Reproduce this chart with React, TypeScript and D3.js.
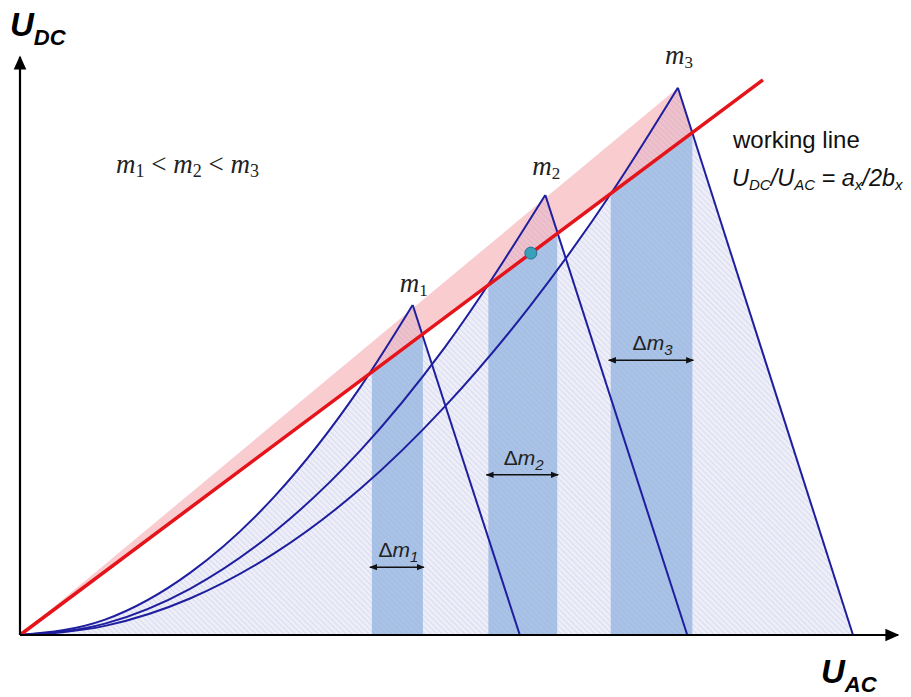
import React from "react";
import * as d3 from "d3";

const W = 911;
const H = 697;

// Modulation index labels and the triangle corners of each operating area (U_AC, U_DC units)
const modIndex = ["1", "2", "3"];
const peakUac = [46.2, 61.8, 77.4];
const peakUdc = [57.9, 77.2, 96.0];
const footUac = [58.8, 78.5, 98.0];

// Rising (convex) boundary of each area, from the origin up to its peak
const riseM1: [number, number][] = [[0, 0], [10, 2.7], [20, 10.9], [30, 24.4], [40, 43.4], [46.2, 57.9]];
const riseM2: [number, number][] = [[0, 0], [10, 2.0], [20, 8.1], [30, 18.2], [40, 32.3], [50, 50.5], [61.8, 77.2]];
const riseM3: [number, number][] = [[0, 0], [10, 1.6], [20, 6.4], [30, 14.4], [40, 25.6], [50, 40.1], [60, 57.7], [70, 78.5], [77.4, 96.0]];
const rises = [riseM1, riseM2, riseM3];

// Working line end point and operating point on it
const workingEnd: [number, number] = [87.4, 97.4];
const operatingPoint: [number, number] = [60.1, 67.0];

// Δm strips: where each area crosses the working line
const bandLeft = [41.4, 55.1, 69.5];
const bandRight = [47.4, 63.2, 79.1];
const arrowUdc = [11.9, 28.1, 48.2];

// gap between each peak and its label baseline (px)
const labelGap = [13, 20, 24];

export default function App() {
  const x = d3.scaleLinear().domain([0, 100]).range([20, 870]);
  const y = d3.scaleLinear().domain([0, 100]).range([635, 65]);
  const slope = workingEnd[1] / workingEnd[0];

  const line = d3.line<[number, number]>().x(d => x(d[0])).y(d => y(d[1]));
  const smooth = d3.line<[number, number]>().x(d => x(d[0])).y(d => y(d[1])).curve(d3.curveMonotoneX);

  const areaPath = (i: number) => {
    const rise = smooth(rises[i]) as string;
    return `${rise}L${x(footUac[i])},${y(0)}Z`;
  };

  // Pink band: between the line through the peaks and the working line
  const p3: [number, number] = [peakUac[2], peakUdc[2]];
  const edgeSlope = -peakUdc[2] / (footUac[2] - peakUac[2]);
  const crossX = (peakUdc[2] - edgeSlope * peakUac[2]) / (slope - edgeSlope);
  const pinkPts: [number, number][] = [[0, 0], p3, [crossX, slope * crossX]];

  const blue = "#1e1e9e";
  const serif = "'Liberation Serif', 'DejaVu Serif', serif";

  return (
    <svg width={W} height={H} style={{ position: "absolute", left: 0, top: 0, background: "#fff" }}
      fontFamily="'Liberation Sans', Arial, sans-serif">
      <defs>
        <pattern id="hatch" patternUnits="userSpaceOnUse" width={4} height={4} patternTransform="rotate(-45)">
          <rect width={4} height={4} fill="#edeef8" />
          <line x1={0} y1={0} x2={0} y2={4} stroke="#cfd3ec" strokeWidth={1.3} />
        </pattern>
        <marker id="ah" viewBox="0 0 10 10" refX={9} refY={5} markerWidth={8} markerHeight={8} orient="auto-start-reverse" markerUnits="userSpaceOnUse">
          <path d="M0,1 L10,5 L0,9 Z" fill="#111" />
        </marker>
        <marker id="axh" viewBox="0 0 10 10" refX={9} refY={5} markerWidth={16} markerHeight={14} orient="auto" markerUnits="userSpaceOnUse">
          <path d="M0,0.5 L10,5 L0,9.5 Z" fill="#000" />
        </marker>
      </defs>

      {/* hatched operating areas */}
      {modIndex.map((_, i) => (
        <path key={"a" + i} d={areaPath(i)} fill="url(#hatch)" />
      ))}

      {/* Δm strips */}
      {modIndex.map((_, i) => {
        const pts: [number, number][] = [
          [bandLeft[i], 0], [bandLeft[i], slope * bandLeft[i]],
          [bandRight[i], slope * bandRight[i]], [bandRight[i], 0],
        ];
        return <path key={"b" + i} d={line(pts) + "Z"} fill="#86abdc" opacity={0.66} />;
      })}

      {/* pink band */}
      <path d={line(pinkPts) + "Z"} fill="#f07884" opacity={0.38} />

      {/* area boundaries */}
      {modIndex.map((_, i) => (
        <g key={"c" + i}>
          <path d={smooth(rises[i]) as string} fill="none" stroke={blue} strokeWidth={2} />
          <path d={line([[peakUac[i], peakUdc[i]], [footUac[i], 0]]) as string} fill="none" stroke={blue} strokeWidth={2} />
        </g>
      ))}

      {/* working line */}
      <path d={line([[0, 0], workingEnd]) as string} stroke="#e5141b" strokeWidth={3.5} fill="none" />
      <circle cx={x(operatingPoint[0])} cy={y(operatingPoint[1])} r={6} fill="#3aa0b8" stroke="#2b6d9b" strokeWidth={1} />

      {/* axes */}
      <line x1={x(0)} y1={y(0)} x2={898} y2={y(0)} stroke="#000" strokeWidth={2.2} markerEnd="url(#axh)" />
      <line x1={x(0)} y1={y(0)} x2={x(0)} y2={57} stroke="#000" strokeWidth={2.2} markerEnd="url(#axh)" />

      {/* Δm arrows and labels */}
      {modIndex.map((m, i) => (
        <g key={"d" + i}>
          <line x1={x(bandLeft[i]) - 2} x2={x(bandRight[i]) + 1} y1={y(arrowUdc[i])} y2={y(arrowUdc[i])}
            stroke="#111" strokeWidth={1.5} markerStart="url(#ah)" markerEnd="url(#ah)" />
          <text x={(x(bandLeft[i]) + x(bandRight[i])) / 2 + 1} y={y(arrowUdc[i]) - 10} textAnchor="middle" fontSize={21} fill="#222">
            Δ<tspan fontStyle="italic">m</tspan><tspan fontSize={15} dy={5} fontStyle="italic">{m}</tspan>
          </text>
        </g>
      ))}

      {/* m labels above peaks */}
      {modIndex.map((m, i) => (
        <text key={"m" + i} x={x(peakUac[i]) + 1} y={y(peakUdc[i]) - labelGap[i]} textAnchor="middle"
          fontFamily={serif} fontSize={27} fill="#222">
          <tspan fontStyle="italic">m</tspan><tspan fontSize={17} dy={4}>{m}</tspan>
        </text>
      ))}

      <text x={116} y={173} fontFamily={serif} fontSize={27} fill="#222">
        <tspan fontStyle="italic">m</tspan><tspan fontSize={18} dy={4}>1</tspan>
        <tspan dy={-4}> &lt; </tspan><tspan fontStyle="italic">m</tspan><tspan fontSize={18} dy={4}>2</tspan>
        <tspan dy={-4}> &lt; </tspan><tspan fontStyle="italic">m</tspan><tspan fontSize={18} dy={4}>3</tspan>
      </text>

      <text x={733} y={148} fontSize={24} fill="#111">working line</text>
      <text x={732} y={186} fontSize={23.5} fill="#111" fontStyle="italic">
        U<tspan fontSize={15} dy={4}>DC</tspan><tspan dy={-4}>/U</tspan><tspan fontSize={15} dy={4}>AC</tspan>
        <tspan dy={-4}> = a</tspan><tspan fontSize={15} dy={4}>x</tspan><tspan dy={-4}>/2b</tspan><tspan fontSize={15} dy={4}>x</tspan>
      </text>

      {/* axis titles */}
      <text x={10} y={36} fontSize={33} fontWeight="bold" fontStyle="italic" fill="#000">
        U<tspan fontSize={22} dy={9}>DC</tspan>
      </text>
      <text x={821} y={683} fontSize={33} fontWeight="bold" fontStyle="italic" fill="#000">
        U<tspan fontSize={22} dy={9}>AC</tspan>
      </text>
    </svg>
  );
}
